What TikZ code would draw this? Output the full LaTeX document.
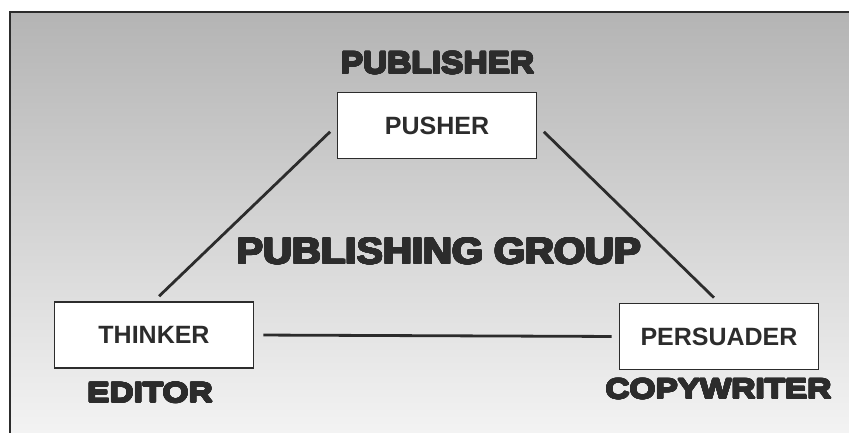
\documentclass[tikz,border=0pt]{standalone}
\usepackage{fontspec}
\usepackage[copies]{contour}
\usepackage{tikz}
\usetikzlibrary{calc,positioning}
\setmainfont{Liberation Sans}
\newfontfamily\heavyfont[FakeStretch=1.08]{Liberation Sans}
\newfontfamily\wideheavyfont[FakeStretch=1.19]{Liberation Sans}
\definecolor{inkgray}{HTML}{2C2C2C}
\definecolor{scantop}{HTML}{B4B4B4}
\definecolor{scanbottom}{HTML}{F3F3F3}
\contourlength{0.8pt}
\contournumber{24}
\newcommand{\heavy}[1]{\contour{inkgray}{#1}}

\begin{document}
\begin{tikzpicture}[x=1pt,y=-1pt]
  \useasboundingbox (0,0) rectangle (849,433);
  % scanned page background and frame
  \shade[top color=scantop, bottom color=scanbottom] (10,12) rectangle (849,433);
  \draw[inkgray, line width=2.2pt] (10,433) -- (10,12) -- (849,12);
  \tikzstyle{rolebox}=[draw=inkgray, line width=1.8pt, fill=white, inner sep=0pt,
    minimum width=199pt, minimum height=66pt, text=inkgray,
    font=\bfseries\fontsize{25}{25}\selectfont];
  \tikzstyle{title}=[inner sep=0pt, text=inkgray, font=\heavyfont\bfseries\fontsize{31}{31}\selectfont];
  \tikzstyle{role}=[inner sep=0pt, text=inkgray, font=\wideheavyfont\bfseries\fontsize{28}{28}\selectfont];
  \tikzstyle{link}=[draw=inkgray, line width=2.8pt, shorten <=9pt, shorten >=7pt];
  \foreach \n/\x/\y/\t in {pusher/437/125.5/PUSHER,thinker/154/335/THINKER,persuader/719/336.5/PERSUADER}{
    \node[rolebox] (\n) at (\x,\y) {\t};
  }
  \node[title] (publisher) at (437.5,63.5) {\heavy{PUBLISHER}};
  \node[title, font=\heavyfont\bfseries\fontsize{37}{37}\selectfont] (group) at (439,251.5) {\heavy{PUBLISHING GROUP}};
  \node[role] (editor) at (150,393) {\heavy{EDITOR}};
  \node[role] (copywriter) at (718.5,389.5) {\heavy{COPYWRITER}};
  \foreach \a/\b in {pusher.west/thinker.north,pusher.east/persuader.north,thinker.east/persuader.west}{
    \draw[link] (\a) -- (\b);
  }
\end{tikzpicture}
\end{document}
